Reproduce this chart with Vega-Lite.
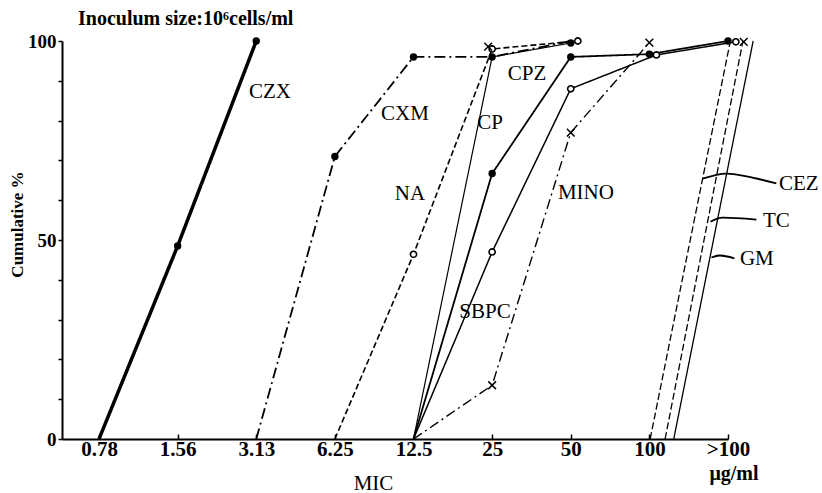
{
  "$schema": "https://vega.github.io/schema/vega-lite/v6.json",
  "width": 666,
  "height": 398,
  "autosize": {"type": "none"},
  "padding": {"left": 62, "top": 41, "right": 94, "bottom": 54},
  "background": "white",
  "config": {"view": {"stroke": null}, "font": "Liberation Serif"},
  "datasets": {
    "lines": [
      {"series": "CZX", "x": 1, "y": 0}, {"series": "CZX", "x": 2, "y": 48.5}, {"series": "CZX", "x": 3, "y": 100},
      {"series": "CXM", "x": 3, "y": 0}, {"series": "CXM", "x": 4, "y": 71}, {"series": "CXM", "x": 5, "y": 96}, {"series": "CXM", "x": 6, "y": 96}, {"series": "CXM", "x": 7, "y": 100},
      {"series": "NA", "x": 4, "y": 0}, {"series": "NA", "x": 5, "y": 46.4}, {"series": "NA", "x": 6, "y": 98}, {"series": "NA", "x": 7.09, "y": 100},
      {"series": "CP", "x": 5, "y": 0}, {"series": "CP", "x": 6, "y": 96}, {"series": "CP", "x": 7, "y": 99.5},
      {"series": "CPZ", "x": 5, "y": 0}, {"series": "CPZ", "x": 6, "y": 66.7}, {"series": "CPZ", "x": 7, "y": 96}, {"series": "CPZ", "x": 8, "y": 96.7}, {"series": "CPZ", "x": 9, "y": 100},
      {"series": "SBPC", "x": 5, "y": 0}, {"series": "SBPC", "x": 6, "y": 47}, {"series": "SBPC", "x": 7, "y": 88}, {"series": "SBPC", "x": 8.09, "y": 96.5}, {"series": "SBPC", "x": 9.1, "y": 99.8},
      {"series": "MINO", "x": 5, "y": 0}, {"series": "MINO", "x": 6, "y": 13.5}, {"series": "MINO", "x": 7, "y": 77}, {"series": "MINO", "x": 8, "y": 99.6},
      {"series": "CEZ", "x": 8.01, "y": 0}, {"series": "CEZ", "x": 9.03, "y": 100},
      {"series": "TC", "x": 8.2, "y": 0}, {"series": "TC", "x": 9.19, "y": 100},
      {"series": "GM", "x": 8.31, "y": 0}, {"series": "GM", "x": 9.32, "y": 100}
    ],
    "points": [
      {"series": "CZX", "x": 2, "y": 48.5}, {"series": "CZX", "x": 3, "y": 100},
      {"series": "CXM", "x": 4, "y": 71}, {"series": "CXM", "x": 5, "y": 96},
      {"series": "NA", "x": 5, "y": 46.4}, {"series": "NA", "x": 6, "y": 98}, {"series": "NA", "x": 7.09, "y": 100},
      {"series": "CP", "x": 6, "y": 96}, {"series": "CP", "x": 7, "y": 99.5},
      {"series": "CPZ", "x": 6, "y": 66.7}, {"series": "CPZ", "x": 7, "y": 96}, {"series": "CPZ", "x": 8, "y": 96.7}, {"series": "CPZ", "x": 9, "y": 100},
      {"series": "SBPC", "x": 6, "y": 47}, {"series": "SBPC", "x": 7, "y": 88}, {"series": "SBPC", "x": 8.09, "y": 96.5}, {"series": "SBPC", "x": 9.1, "y": 99.8},
      {"series": "MINO", "x": 6, "y": 13.5}, {"series": "MINO", "x": 7, "y": 77}, {"series": "MINO", "x": 8, "y": 99.6}, {"series": "MINO", "x": 9.2, "y": 99.8},
      {"series": "MINO", "x": 5.95, "y": 98.6}
    ],
    "leaders": [
      {"label": "CEZ", "x": 8.675, "y": 65.4}, {"label": "CEZ", "x": 8.98, "y": 66.7}, {"label": "CEZ", "x": 9.31, "y": 65.7}, {"label": "CEZ", "x": 9.615, "y": 64.2},
      {"label": "TC", "x": 8.777, "y": 54.6}, {"label": "TC", "x": 8.929, "y": 55.6}, {"label": "TC", "x": 9.361, "y": 55.1},
      {"label": "GM", "x": 8.79, "y": 45.6}, {"label": "GM", "x": 8.891, "y": 46.1}, {"label": "GM", "x": 9.082, "y": 45.4}
    ],
    "labels": [
      {"label": "CZX", "x": 3.175, "y": 87.2},
      {"label": "CXM", "x": 4.892, "y": 81.7},
      {"label": "NA", "x": 4.955, "y": 61.6},
      {"label": "CP", "x": 5.973, "y": 79.4},
      {"label": "CPZ", "x": 6.443, "y": 91.7},
      {"label": "MINO", "x": 7.193, "y": 61.8},
      {"label": "SBPC", "x": 5.909, "y": 31.9}
    ],
    "rlabels": [
      {"label": "CEZ", "x": 9.648, "y": 64.1},
      {"label": "TC", "x": 9.445, "y": 54.8},
      {"label": "GM", "x": 9.152, "y": 45.2}
    ],
    "units": [
      {"label": "μg/ml", "x": 9.076, "y": -8.8}
    ],
    "heading": [
      {"label": "Inoculum size:10⁶cells/ml", "x": 0.733, "y": 104}
    ]
  },
  "encoding": {
    "x": {
      "field": "x", "type": "quantitative",
      "scale": {"domain": [0.5294, 9], "nice": false, "zero": false},
      "axis": {
        "values": [1, 2, 3, 4, 5, 6, 7, 8, 9],
        "labelExpr": "['','0.78','1.56','3.13','6.25','12.5','25','50','100','>100'][datum.value]",
        "title": "MIC", "titleX": 311, "titleY": 44, "titleBaseline": "middle", "titleAlign": "center",
        "titleFont": "Liberation Serif", "titleFontSize": 21, "titleFontWeight": "normal", "titleColor": "black",
        "labelFont": "Liberation Serif", "labelFontSize": 21, "labelFontWeight": "bold", "labelColor": "black",
        "labelPadding": 4, "labelOverlap": false, "labelFlush": false,
        "tickSize": -5, "tickColor": "black", "tickWidth": 1.5,
        "domainColor": "black", "domainWidth": 2, "grid": false
      }
    },
    "y": {
      "field": "y", "type": "quantitative",
      "scale": {"domain": [0, 100], "nice": false},
      "axis": {
        "values": [0, 10, 20, 30, 40, 50, 60, 70, 80, 90, 100],
        "labelExpr": "datum.value % 50 == 0 ? datum.label : ''",
        "title": "Cumulative %", "titleX": -45, "titleY": 183, "titleAlign": "center", "titleBaseline": "middle",
        "titleFont": "Liberation Serif", "titleFontSize": 17, "titleFontWeight": "bold", "titleColor": "black",
        "labelFont": "Liberation Serif", "labelFontSize": 19, "labelFontWeight": "bold", "labelColor": "black",
        "labelPadding": 2, "labelOverlap": false, "labelFlush": false,
        "tickSize": 4, "tickColor": "black", "tickWidth": 1.5,
        "domainColor": "black", "domainWidth": 2, "grid": false
      }
    }
  },
  "layer": [
    {
      "data": {"name": "lines"},
      "mark": {"type": "line", "color": "black", "clip": false, "strokeCap": "butt"},
      "encoding": {
        "detail": {"field": "series", "type": "nominal"},
        "strokeDash": {"field": "series", "type": "nominal", "legend": null,
          "scale": {"domain": ["CZX", "CXM", "NA", "CP", "CPZ", "SBPC", "MINO", "CEZ", "TC", "GM"],
                    "range": [[1, 0], [11, 4, 2, 4], [6, 3], [1, 0], [1, 0], [1, 0], [10, 4, 2, 4], [7, 3], [7, 3], [1, 0]]}},
        "strokeWidth": {"field": "series", "type": "ordinal", "legend": null,
          "scale": {"type": "ordinal", "domain": ["CZX", "CXM", "NA", "CP", "CPZ", "SBPC", "MINO", "CEZ", "TC", "GM"],
                    "range": [3.5, 1.8, 1.6, 1.2, 1.8, 1.5, 1.4, 1.3, 1.3, 1.3]}}
      }
    },
    {
      "data": {"name": "leaders"},
      "mark": {"type": "line", "color": "black", "clip": false, "strokeWidth": 1.8, "interpolate": "monotone"},
      "encoding": {"detail": {"field": "label", "type": "nominal"}}
    },
    {
      "data": {"name": "points"},
      "transform": [{"filter": {"field": "series", "oneOf": ["CZX", "CXM", "CP", "CPZ"]}}],
      "mark": {"type": "circle", "color": "black", "opacity": 1, "size": 55, "clip": false}
    },
    {
      "data": {"name": "points"},
      "transform": [{"filter": {"field": "series", "oneOf": ["NA", "SBPC"]}}],
      "mark": {"type": "point", "shape": "circle", "filled": false, "fill": "white", "fillOpacity": 1, "stroke": "black", "strokeWidth": 1.6, "opacity": 1, "size": 38, "clip": false}
    },
    {
      "data": {"name": "points"},
      "transform": [{"filter": {"field": "series", "equal": "MINO"}}],
      "mark": {"type": "point", "shape": "M-1,-1L1,1M1,-1L-1,1", "filled": false, "stroke": "black", "strokeWidth": 1.5, "opacity": 1, "size": 60, "clip": false}
    },
    {
      "data": {"name": "labels"},
      "mark": {"type": "text", "font": "Liberation Serif", "fontSize": 21, "color": "black", "align": "center", "baseline": "middle", "clip": false},
      "encoding": {"text": {"field": "label", "type": "nominal"}}
    },
    {
      "data": {"name": "rlabels"},
      "mark": {"type": "text", "font": "Liberation Serif", "fontSize": 21, "color": "black", "align": "left", "baseline": "middle", "clip": false},
      "encoding": {"text": {"field": "label", "type": "nominal"}}
    },
    {
      "data": {"name": "units"},
      "mark": {"type": "text", "font": "Liberation Serif", "fontSize": 20, "fontWeight": "bold", "color": "black", "align": "center", "baseline": "middle", "clip": false},
      "encoding": {"text": {"field": "label", "type": "nominal"}}
    },
    {
      "data": {"name": "heading"},
      "mark": {"type": "text", "font": "Liberation Serif", "fontSize": 20, "fontWeight": "bold", "color": "black", "align": "left", "baseline": "alphabetic", "clip": false},
      "encoding": {"text": {"field": "label", "type": "nominal"}}
    }
  ]
}
